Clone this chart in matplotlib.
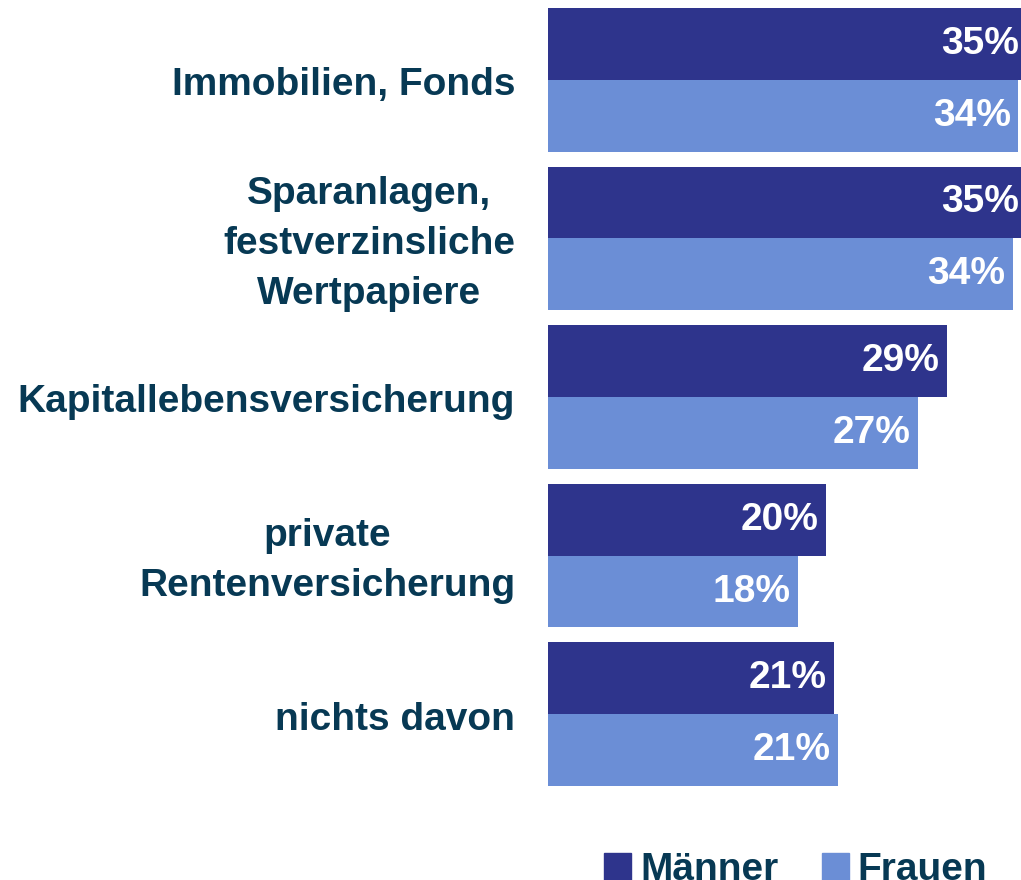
import matplotlib.pyplot as plt
import numpy as np
from matplotlib.patches import Rectangle
from matplotlib.transforms import blended_transform_factory, ScaledTranslation

# Daten
categories = ['Immobilien, Fonds', 'Sparanlagen,\nfestverzinsliche\nWertpapiere',
              'Kapitallebensversicherung', 'private\nRentenversicherung', 'nichts davon']
maenner = [34.8, 34.8, 29.0, 20.2, 20.8]
frauen = [34.2, 33.8, 26.9, 18.2, 21.1]
maenner_labels = ['35%', '35%', '29%', '20%', '21%']
frauen_labels = ['34%', '34%', '27%', '18%', '21%']

dark = '#2e348c'
light = '#6b8ed6'
text_col = '#073954'

plt.rcParams['font.family'] = ['Liberation Sans', 'DejaVu Sans']

fig = plt.figure(figsize=(10.21, 8.80), dpi=100)
ax = fig.add_axes([548 / 1021, 1 - 786 / 880, 1 - 548 / 1021, (786 - 8) / 880])

h = 0.454
y = np.arange(len(categories))
ax.barh(y - h / 2, maenner, height=h, color=dark)
ax.barh(y + h / 2, frauen, height=h, color=light)
ax.set_xlim(0, 34.4)
ax.set_ylim(len(categories) - 1 + h, -h)
ax.axis('off')

# Werte in den Balken
for i in range(len(categories)):
    for val, lab, off in [(maenner[i], maenner_labels[i], -h / 2), (frauen[i], frauen_labels[i], h / 2)]:
        ax.text(val - 0.55, i + off, lab, ha='right', va='center',
                color='white', fontsize=28, fontweight='bold')

# Kategorien links (etwas nach unten versetzt)
trans = blended_transform_factory(fig.transFigure, ax.transData) + \
    ScaledTranslation(0, -0.055, fig.dpi_scale_trans)
for i, cat in enumerate(categories):
    fig.text(515 / 1021, i, cat, ha='right', va='center', multialignment='center',
             color=text_col, fontsize=28, fontweight='bold', linespacing=1.5,
             transform=trans)

# Legende
fig.patches.append(Rectangle((604 / 1021, 0), 27 / 1021, 27 / 880, transform=fig.transFigure,
                             color=dark, figure=fig))
fig.text(640 / 1021, 0.0, 'Männer', ha='left', va='baseline', color=text_col,
         fontsize=28, fontweight='bold')
fig.patches.append(Rectangle((822 / 1021, 0), 27 / 1021, 27 / 880, transform=fig.transFigure,
                             color=light, figure=fig))
fig.text(857 / 1021, 0.0, 'Frauen', ha='left', va='baseline', color=text_col,
         fontsize=28, fontweight='bold')

fig.savefig('out.png')
plt.close(fig)
